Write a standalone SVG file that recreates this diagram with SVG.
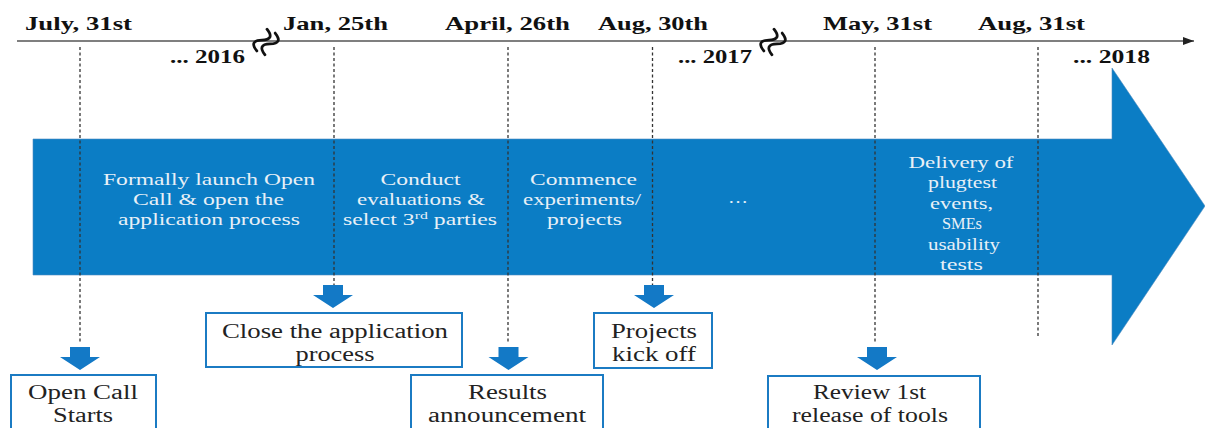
<svg xmlns="http://www.w3.org/2000/svg" width="1205" height="428" viewBox="0 0 1205 428">
<style>
.date{font-family:"Liberation Serif","DejaVu Serif",serif;font-weight:bold;font-size:19px;fill:#111;text-anchor:middle}
.yr{font-family:"Liberation Serif","DejaVu Serif",serif;font-weight:bold;font-size:18px;fill:#111;text-anchor:middle}
.in{font-family:"Liberation Serif","DejaVu Serif",serif;font-weight:normal;font-size:16.5px;fill:#E8F0F7;text-anchor:middle}
.bx{font-family:"Liberation Serif","DejaVu Serif",serif;font-weight:normal;font-size:20px;fill:#222;text-anchor:middle}
.box{fill:#fff;stroke:#1B7BC3;stroke-width:2}
.dash{stroke:#333;stroke-width:1.3;stroke-dasharray:3 2.5;fill:none}
.sa{fill:#1379C6}
.brk{fill:none;stroke:#111;stroke-width:2.8;stroke-linecap:round}
</style>
<defs>
<marker id="ah" markerWidth="12" markerHeight="10" refX="11" refY="5" orient="auto" markerUnits="userSpaceOnUse">
<path d="M0,1 L11,5 L0,9 Z" fill="#222"/>
</marker>
<path id="sarrow" d="M-10,0 H10 V10 H20 L0,23 L-20,10 H-10 Z"/>
<g id="brkmark"><path d="M-12,0 C-8,-8 -4,-8 0,0 C4,8 8,8 12,0" transform="translate(0,-4.5)"/><path d="M-12,0 C-8,-8 -4,-8 0,0 C4,8 8,8 12,0" transform="translate(0,4.5)"/></g>
</defs>

<g id="timeline">
<line x1="17" y1="41" x2="1194" y2="41" stroke="#555" stroke-width="1.3" marker-end="url(#ah)"/>
<g class="brk" transform="translate(266,42) rotate(-65)"><use href="#brkmark"/></g>
<g class="brk" transform="translate(773,42) rotate(-65)"><use href="#brkmark"/></g>
<text class="date" x="78.5" y="30" textLength="107" lengthAdjust="spacingAndGlyphs">July, 31st</text>
<text class="date" x="335.5" y="30" textLength="105" lengthAdjust="spacingAndGlyphs">Jan, 25th</text>
<text class="date" x="507.5" y="30" textLength="125" lengthAdjust="spacingAndGlyphs">April, 26th</text>
<text class="date" x="653" y="30" textLength="110" lengthAdjust="spacingAndGlyphs">Aug, 30th</text>
<text class="date" x="877.5" y="30" textLength="109" lengthAdjust="spacingAndGlyphs">May, 31st</text>
<text class="date" x="1031.5" y="30" textLength="107" lengthAdjust="spacingAndGlyphs">Aug, 31st</text>
<text class="yr" x="207.5" y="63" textLength="75" lengthAdjust="spacingAndGlyphs">... 2016</text>
<text class="yr" x="715" y="63" textLength="74" lengthAdjust="spacingAndGlyphs">... 2017</text>
<text class="yr" x="1111.5" y="63" textLength="77" lengthAdjust="spacingAndGlyphs">... 2018</text>
</g>

<g id="big-arrow">
<polygon points="33,139 1112,139 1112,68 1205,206 1112,345 1112,275 33,275" fill="#0B7DC5" stroke="#4D8CC0" stroke-width="0.6"/>
<text class="in" x="209" y="185" textLength="212" lengthAdjust="spacingAndGlyphs">Formally launch Open</text>
<text class="in" x="208.5" y="205" textLength="151" lengthAdjust="spacingAndGlyphs">Call &amp; open the</text>
<text class="in" x="209" y="225" textLength="182" lengthAdjust="spacingAndGlyphs">application process</text>
<text class="in" x="420.5" y="185" textLength="80" lengthAdjust="spacingAndGlyphs">Conduct</text>
<text class="in" x="421" y="205" textLength="128" lengthAdjust="spacingAndGlyphs">evaluations &amp;</text>
<text class="in" x="420" y="225" textLength="154" lengthAdjust="spacingAndGlyphs">select 3<tspan font-size="11" dy="-6">rd</tspan><tspan dy="6"> parties</tspan></text>
<text class="in" x="583.5" y="185" textLength="107" lengthAdjust="spacingAndGlyphs">Commence</text>
<text class="in" x="582" y="205" textLength="118" lengthAdjust="spacingAndGlyphs">experiments/</text>
<text class="in" x="584.5" y="225" textLength="75" lengthAdjust="spacingAndGlyphs">projects</text>
<text class="in" x="738" y="203" textLength="20" lengthAdjust="spacingAndGlyphs">…</text>
<text class="in" x="961" y="168" textLength="105" lengthAdjust="spacingAndGlyphs">Delivery of</text>
<text class="in" x="962.5" y="188" textLength="69" lengthAdjust="spacingAndGlyphs">plugtest</text>
<text class="in" x="961.5" y="208.5" textLength="63" lengthAdjust="spacingAndGlyphs">events,</text>
<text class="in" x="962" y="229" textLength="40" lengthAdjust="spacingAndGlyphs">SMEs</text>
<text class="in" x="964" y="249.5" textLength="72" lengthAdjust="spacingAndGlyphs">usability</text>
<text class="in" x="961.5" y="270" textLength="43" lengthAdjust="spacingAndGlyphs">tests</text>
</g>

<g id="connectors">
<line class="dash" x1="80" y1="47" x2="80" y2="344"/>
<line class="dash" x1="334" y1="47" x2="334" y2="286"/>
<line class="dash" x1="508" y1="47" x2="508" y2="344"/>
<line class="dash" x1="652.5" y1="47" x2="652.5" y2="286"/>
<line class="dash" x1="875" y1="47" x2="875" y2="344"/>
<line class="dash" x1="1038" y1="47" x2="1038" y2="336"/>
<use class="sa" href="#sarrow" x="80" y="347"/>
<use class="sa" href="#sarrow" x="333" y="285"/>
<use class="sa" href="#sarrow" x="508.5" y="347"/>
<use class="sa" href="#sarrow" x="654" y="285"/>
<use class="sa" href="#sarrow" x="877" y="347"/>
</g>

<g id="open-call-starts">
<rect class="box" x="11" y="375" width="145" height="62"/>
<text class="bx" x="83" y="399" textLength="110" lengthAdjust="spacingAndGlyphs">Open Call</text>
<text class="bx" x="83" y="422" textLength="60" lengthAdjust="spacingAndGlyphs">Starts</text>
</g>

<g id="close-application">
<rect class="box" x="206" y="313" width="256" height="54"/>
<text class="bx" x="335" y="338" textLength="226" lengthAdjust="spacingAndGlyphs">Close the application</text>
<text class="bx" x="335" y="361" textLength="79" lengthAdjust="spacingAndGlyphs">process</text>
</g>

<g id="results-announcement">
<rect class="box" x="411" y="375" width="192" height="62"/>
<text class="bx" x="507.5" y="399" textLength="79" lengthAdjust="spacingAndGlyphs">Results</text>
<text class="bx" x="507" y="422" textLength="158" lengthAdjust="spacingAndGlyphs">announcement</text>
</g>

<g id="projects-kick-off">
<rect class="box" x="594" y="313" width="118" height="55"/>
<text class="bx" x="654" y="338" textLength="86" lengthAdjust="spacingAndGlyphs">Projects</text>
<text class="bx" x="654" y="361" textLength="84" lengthAdjust="spacingAndGlyphs">kick off</text>
</g>

<g id="review-release">
<rect class="box" x="768" y="376" width="212" height="62"/>
<text class="bx" x="869.5" y="399" textLength="113" lengthAdjust="spacingAndGlyphs">Review 1st</text>
<text class="bx" x="870" y="422" textLength="156" lengthAdjust="spacingAndGlyphs">release of tools</text>
</g>
</svg>
